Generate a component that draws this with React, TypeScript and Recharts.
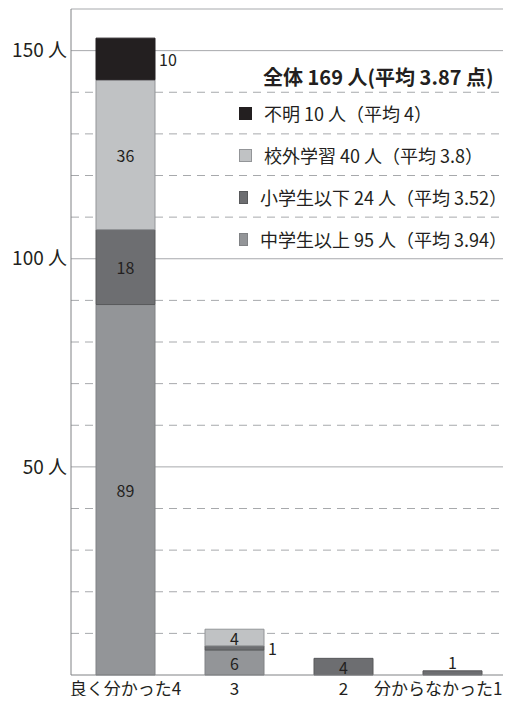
import { BarChart, Bar, XAxis, YAxis, CartesianGrid, Legend, LabelList } from 'recharts'

const categories = ['良く分かった4', '3', '2', '分からなかった1']
const juniorHighUp = [89, 6, 0, 0]
const elementaryDown = [18, 1, 4, 1]
const fieldTrip = [36, 4, 0, 0]
const unknown = [10, 0, 0, 0]

const seriesLabels = ['中学生以上 95 人（平均 3.94）', '小学生以下 24 人（平均 3.52）', '校外学習 40 人（平均 3.8）', '不明 10 人（平均 4）']
const totalLabel = '全体 169 人(平均 3.87 点)'

const yTicks = [10, 20, 30, 40, 50, 60, 70, 80, 90, 100, 110, 120, 130, 140, 150, 160]
const majorTicks = [50, 100, 150]
const minorTicks = [10, 20, 30, 40, 60, 70, 80, 90, 110, 120, 130, 140]

const FONT = "'Noto Sans CJK JP', 'Noto Sans', sans-serif"
const TEXT = '#231f20'

const series = [
  { key: 'juniorHighUp', values: juniorHighUp, fill: '#939598', stroke: '#808285', name: seriesLabels[0] },
  { key: 'elementaryDown', values: elementaryDown, fill: '#6d6e71', stroke: '#58595b', name: seriesLabels[1] },
  { key: 'fieldTrip', values: fieldTrip, fill: '#c0c2c4', stroke: '#939598', name: seriesLabels[2] },
  { key: 'unknown', values: unknown, fill: '#231f20', stroke: '#231f20', name: seriesLabels[3] },
]

const data = categories.map((c, i) => {
  const row: Record<string, string | number> = { name: c }
  series.forEach(s => { row[s.key] = s.values[i] })
  return row
})

const rowTotals = categories.map((_, i) => series.reduce((sum, s) => sum + s.values[i], 0))

function makeLabel(outside: boolean) {
  return (props: any) => {
    const { x, y, width, height, value, index } = props
    if (!value) return null
    const common = { fill: TEXT, fontSize: 16, fontFamily: FONT, dominantBaseline: 'central' as const }
    if (!outside && height >= 16) {
      return <text x={x + width / 2} y={y + height / 2} textAnchor="middle" {...common}>{value}</text>
    }
    if (rowTotals[index] === value && height < 16) {
      return <text x={x + width / 2} y={y - 9} textAnchor="middle" {...common}>{value}</text>
    }
    return <text x={x + width + 4} y={y + height / 2} textAnchor="start" {...common}>{value}</text>
  }
}

// last label is wider than its band, so keep it inside the frame
function CategoryTick(props: any) {
  const { x, y, payload, index } = props
  const last = index === categories.length - 1
  return (
    <text
      x={last ? x + 50 : x}
      y={y}
      dy="0.72em"
      textAnchor={last ? 'end' : 'middle'}
      fill={TEXT}
      fontSize={17}
      fontFamily={FONT}
    >
      {payload.value}
    </text>
  )
}

function LegendBox() {
  const items = [...series].reverse()
  return (
    <div style={{ fontFamily: FONT, color: TEXT }}>
      <div style={{ height: 30, lineHeight: '30px', paddingLeft: 24, fontSize: 20, fontWeight: 700, whiteSpace: 'nowrap' }}>{totalLabel}</div>
      {items.map(s => (
        <div key={s.key} style={{ height: 42, display: 'flex', alignItems: 'center', fontSize: 18, whiteSpace: 'nowrap' }}>
          <div style={{ width: 11, height: 11, background: s.fill, border: `1px solid ${s.stroke}`, marginRight: 12 }} />
          <span>{s.name}</span>
        </div>
      ))}
    </div>
  )
}

export default function App() {
  return (
    <div style={{ margin: -8, width: 511, height: 704, background: '#fff' }}>
      <BarChart width={511} height={704} data={data} margin={{ top: 9, right: 4, bottom: 0, left: 0 }} barSize={59}>
        <CartesianGrid horizontalValues={minorTicks} vertical={false} stroke="#a7a9ac" strokeDasharray="8 6" />
        <CartesianGrid horizontalValues={[...majorTicks, 160]} vertical={false} stroke="#a7a9ac" />
        <XAxis
          dataKey="name"
          axisLine={{ stroke: '#808285' }}
          tickLine={false}
          height={29}
          interval={0}
          tick={<CategoryTick />}
        />
        <YAxis
          yAxisId={0}
          domain={[0, 160]}
          ticks={yTicks}
          width={71}
          axisLine={{ stroke: '#808285' }}
          tickLine={false}
          tickSize={2}
          tickFormatter={(v: number) => (majorTicks.includes(v) ? `${v} 人` : '')}
          tick={{ fill: TEXT, fontSize: 19, fontFamily: FONT }}
        />
        <YAxis yAxisId="right" orientation="right" domain={[0, 160]} width={0} tick={false} tickLine={false} axisLine={{ stroke: '#808285' }} />
        <Legend
          layout="vertical"
          align="center"
          verticalAlign="middle"
          wrapperStyle={{ top: 62, left: 239, width: 268, height: 200 }}
          content={() => <LegendBox />}
        />
        {series.map(s => (
          <Bar key={s.key} dataKey={s.key} stackId="a" fill={s.fill} stroke={s.stroke} strokeWidth={1} isAnimationActive={false}>
            <LabelList dataKey={s.key} content={makeLabel(s.key === 'unknown')} />
          </Bar>
        ))}
      </BarChart>
    </div>
  )
}
